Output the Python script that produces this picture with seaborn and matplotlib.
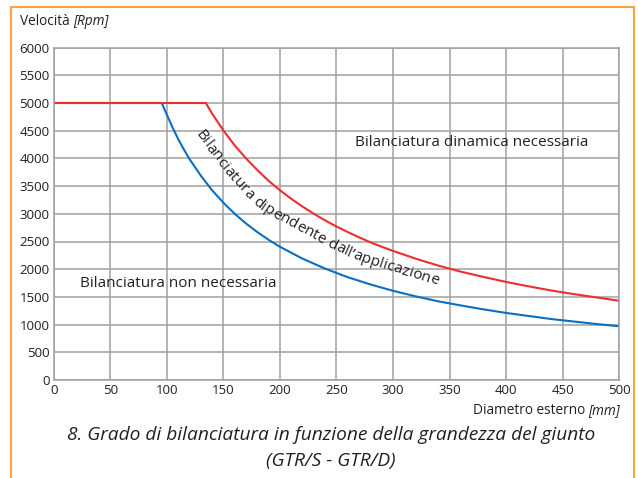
import seaborn as sns
import numpy as np
import matplotlib.pyplot as plt
import pandas as pd
from matplotlib.lines import Line2D
from matplotlib.font_manager import FontProperties, findfont, get_font

# values
diam_blue = [0, 95.5, 100, 105, 110, 115, 120, 130, 140, 150, 160, 170, 180, 190, 200,
             220, 240, 260, 280, 300, 320, 340, 360, 380, 400, 420, 440, 460, 480, 500]
rpm_blue = [5000, 5000, 4790, 4560, 4350, 4165, 3990, 3690, 3425, 3200, 3000, 2825, 2670, 2530, 2405,
            2190, 2010, 1855, 1725, 1610, 1510, 1420, 1345, 1275, 1210, 1155, 1100, 1055, 1010, 970]

diam_red = [0, 134.5, 140, 150, 160, 170, 180, 190, 200, 210, 220, 230, 240, 250, 260, 270,
            280, 290, 300, 320, 340, 360, 380, 400, 420, 440, 460, 480, 500]
rpm_red = [5000, 5000, 4810, 4505, 4235, 4000, 3790, 3595, 3425, 3270, 3130, 3000, 2880, 2770, 2670, 2575,
           2485, 2405, 2330, 2190, 2065, 1955, 1860, 1770, 1690, 1615, 1550, 1490, 1430]

x_ticks = [0, 50, 100, 150, 200, 250, 300, 350, 400, 450, 500]
y_ticks = [0, 500, 1000, 1500, 2000, 2500, 3000, 3500, 4000, 4500, 5000, 5500, 6000]

# guide line (data coords) for the curved label between the two curves
label_path_x = [126.6, 131.9, 151.3, 169.0, 184.0, 204.3, 226.4, 248.5, 270.6, 303.3, 334.2, 342.1]
label_path_y = [4531, 4386, 3863, 3430, 3141, 2906, 2671, 2419, 2220, 2022, 1823, 1769]
curved_label = 'Bilanciatura dipendente dall\u2019applicazione'

sns.set_style("whitegrid")
plt.rcParams['font.family'] = ['Open Sans', 'DejaVu Sans']

blue_df = pd.DataFrame({'d': diam_blue, 'v': rpm_blue})
red_df = pd.DataFrame({'d': diam_red, 'v': rpm_red})

fig = plt.figure(figsize=(6.38, 4.78), dpi=100)
ax = fig.add_axes([53.7 / 638, 1 - 380 / 478, (619.3 - 53.7) / 638, (380 - 47.6) / 478])

sns.lineplot(data=blue_df, x='d', y='v', color='#0a6fc2', linewidth=1.5, ax=ax, sort=False)
sns.lineplot(data=red_df, x='d', y='v', color='#ee2d2d', linewidth=1.5, ax=ax, sort=False)

ax.set_xlim(0, 500)
ax.set_ylim(0, 6000)
ax.set_xticks(x_ticks)
ax.set_yticks(y_ticks)
ax.set_xlabel('')
ax.set_ylabel('')
ax.grid(True, color='#a0a0a0', linewidth=1.1)
for s in ax.spines.values():
    s.set_color('#a0a0a0')
    s.set_linewidth(1.1)
ax.tick_params(length=0, labelsize=9.5, colors='#231f20', pad=3)

txt = '#231f20'
fs_in = 11
ax.text(266, 4280, 'Bilanciatura dinamica necessaria', fontsize=fs_in, color=txt, va='center')
ax.text(23, 1735, 'Bilanciatura non necessaria', fontsize=fs_in, color=txt, va='center')

# curved label: place each character along the guide line using glyph advances
font = get_font(findfont(FontProperties(family='Open Sans')))
font.set_size(fs_in, 100)
adv = np.array([font.load_char(ord(c)).linearHoriAdvance / 65536 for c in curved_label])
cum = np.concatenate([[0], np.cumsum(adv)])

pts = ax.transData.transform(np.column_stack([label_path_x, label_path_y]))
d = np.diff(pts, axis=0)
seg = np.hypot(d[:, 0], d[:, 1])
arc = np.concatenate([[0], np.cumsum(seg)])
seg_ang = np.arctan2(d[:, 1], d[:, 0])
vert_ang = np.concatenate([[seg_ang[0]], (seg_ang[:-1] + seg_ang[1:]) / 2, [seg_ang[-1]]])
start = (arc[-1] - cum[-1]) / 2
xh = fs_in * 100 / 72 * 0.27
for i, ch in enumerate(curved_label):
    if ch == ' ':
        continue
    s = start + cum[i] + adv[i] / 2
    px = np.interp(s, arc, pts[:, 0])
    py = np.interp(s, arc, pts[:, 1])
    a = np.interp(s, arc, vert_ang)
    tx, ty = np.cos(a), np.sin(a)
    bx, by = px + ty * xh, py - tx * xh
    dx, dy = ax.transData.inverted().transform((bx, by))
    ax.text(dx, dy, ch, fontsize=fs_in, color=txt, rotation=np.degrees(a), rotation_mode='anchor',
            ha='center', va='baseline')

# axis titles with italic units, on a shared baseline
fs_ax = 9.8
fig.canvas.draw()
renderer = fig.canvas.get_renderer()
t1 = fig.text(20 / 638, 1 - 25 / 478, 'Velocit\u00e0', fontsize=fs_ax, color=txt, va='baseline')
x1 = t1.get_window_extent(renderer).x1 + 3
fig.text(x1 / 638, 1 - 25 / 478, '[Rpm]', fontsize=fs_ax, color=txt, style='italic', va='baseline')
t2 = fig.text(620 / 638, 1 - 414 / 478, '[mm]', fontsize=fs_ax, color=txt, style='italic',
              ha='right', va='baseline')
x0 = t2.get_window_extent(renderer).x0 - 3
fig.text(x0 / 638, 1 - 414 / 478, 'Diametro esterno', fontsize=fs_ax, color=txt, ha='right', va='baseline')

# caption
fig.text(331 / 638, 1 - 435 / 478, '8. Grado di bilanciatura in funzione della grandezza del giunto',
         fontsize=13.8, color=txt, style='italic', ha='center', va='center')
fig.text(331 / 638, 1 - 461 / 478, '(GTR/S - GTR/D)',
         fontsize=13.8, color=txt, style='italic', ha='center', va='center')

# orange frame
orange = '#f7a53c'
fig.add_artist(Line2D([10.5 / 638, 10.5 / 638], [0, 1 - 7 / 478], transform=fig.transFigure, color=orange, lw=1.5))
fig.add_artist(Line2D([10.5 / 638, 634 / 638], [1 - 7 / 478, 1 - 7 / 478], transform=fig.transFigure, color=orange, lw=1.5))
fig.add_artist(Line2D([634 / 638, 634 / 638], [0, 1 - 7 / 478], transform=fig.transFigure, color=orange, lw=1.5))

fig.savefig('out.png', dpi=100)
